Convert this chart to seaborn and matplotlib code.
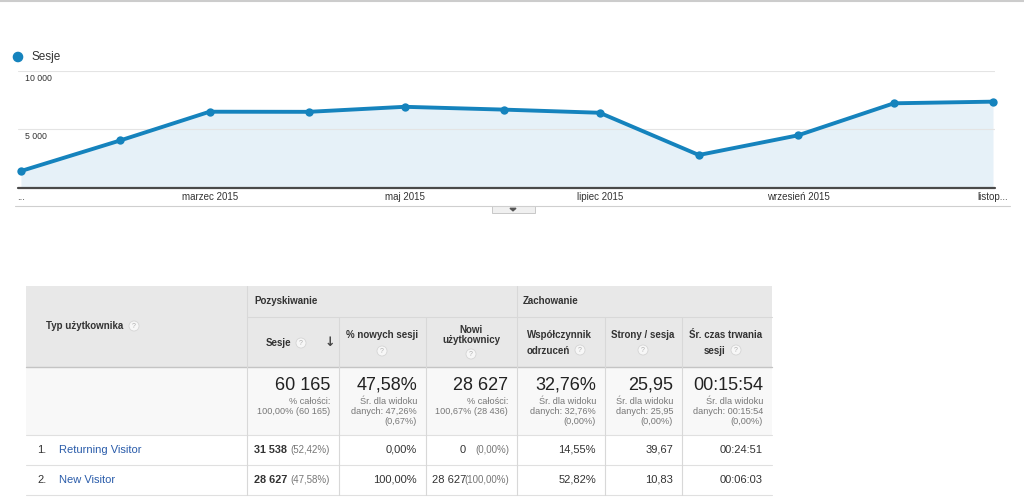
import matplotlib
matplotlib.use("Agg")
import matplotlib.pyplot as plt
import seaborn as sns
import pandas as pd
from matplotlib.patches import Rectangle, Circle, Polygon

# chart data (monthly sessions, Jan - Nov 2015)
months = ["2015-01-01", "2015-02-01", "2015-03-01", "2015-04-01", "2015-05-01", "2015-06-01",
          "2015-07-01", "2015-08-01", "2015-09-01", "2015-10-01", "2015-11-01"]
sessions = [1450, 4060, 6520, 6510, 6940, 6700, 6430, 2820, 4500, 7240, 7380]
tick_dates = ["2015-01-01", "2015-03-01", "2015-05-01", "2015-07-01", "2015-09-01", "2015-11-01"]
tick_labels = ["...", "marzec 2015", "maj 2015", "lipiec 2015", "wrzesień 2015", "listop..."]
y_ticks = [5000, 10000]
y_tick_labels = ["5 000", "10 000"]

# table data
group_names = ["Pozyskiwanie", "Zachowanie"]
first_header = "Typ użytkownika"
col_headers = ["Sesje", "% nowych sesji", "Nowi\nużytkownicy", "Współczynnik\nodrzuceń",
               "Strony / sesja", "Śr. czas trwania\nsesji"]
total_main = ["60 165", "47,58%", "28 627", "32,76%", "25,95", "00:15:54"]
total_sub = [
    ["% całości:", "100,00% (60 165)"],
    ["Śr. dla widoku", "danych: 47,26%", "(0,67%)"],
    ["% całości:", "100,67% (28 436)"],
    ["Śr. dla widoku", "danych: 32,76%", "(0,00%)"],
    ["Śr. dla widoku", "danych: 25,95", "(0,00%)"],
    ["Śr. dla widoku", "danych: 00:15:54", "(0,00%)"],
]
visitor_types = ["Returning Visitor", "New Visitor"]
row_sessions = ["31 538", "28 627"]
row_sessions_pct = ["(52,42%)", "(47,58%)"]
row_new_pct = ["0,00%", "100,00%"]
row_new_users = ["0", "28 627"]
row_new_users_pct = ["(0,00%)", "(100,00%)"]
row_bounce = ["14,55%", "52,82%"]
row_pages = ["39,67", "10,83"]
row_duration = ["00:24:51", "00:06:03"]

BLUE = "#1583bd"
W, H = 1024, 499

sns.set_style("white")
plt.rcParams['font.family'] = ['Liberation Sans', 'DejaVu Sans']

fig = plt.figure(figsize=(W / 100, H / 100), dpi=100)

# background axes in pixel coordinates for the page furniture and the table
bg = fig.add_axes([0, 0, 1, 1], zorder=0)
bg.set_xlim(0, W)
bg.set_ylim(H, 0)
bg.axis('off')

# ---- line chart ----
ax = fig.add_axes([18 / W, 1 - 188 / H, 977 / W, 117 / H], zorder=1)
ax.patch.set_alpha(0)
df = pd.DataFrame({"month": pd.to_datetime(months), "Sesje": sessions})
ax.fill_between(df["month"], df["Sesje"], color="#e6f1f8", zorder=0, lw=0)
for v in y_ticks:
    ax.axhline(v, color="#e4e4e4", lw=0.8, zorder=0.5)
ax.axhline(0, color="#4a4a4a", lw=1.6, zorder=1, clip_on=False)
sns.lineplot(data=df, x="month", y="Sesje", ax=ax, color=BLUE, lw=2.8, marker="o",
             markersize=6, markeredgewidth=0, clip_on=False, zorder=3)
first, last = df["month"].iloc[0], df["month"].iloc[-1]
ax.set_xlim(first - pd.Timedelta(hours=22), last + pd.Timedelta(hours=15))
ax.set_ylim(0, 10000)
ax.set_yticks([])
ax.set_xticks(pd.to_datetime(tick_dates), tick_labels)
ax.tick_params(axis='x', length=0, pad=3, labelsize=7, labelcolor="#333333")
ax.set_xlabel("")
ax.set_ylabel("")
for s in ax.spines.values():
    s.set_visible(False)
for v, lab in zip(y_ticks, y_tick_labels):
    ax.annotate(lab, xy=(0, v), xycoords=('axes fraction', 'data'), xytext=(7, -3),
                textcoords='offset pixels', ha='left', va='top', fontsize=6.3, color="#333333")

# legend, borders, tab
bg.plot([0, W], [0.6, 0.6], color="#cccccc", lw=1.5)
bg.add_patch(Circle((18, 57), 4.6, color=BLUE))
bg.text(31, 57, "Sesje", va='center', ha='left', fontsize=8.5, color="#333333")
bg.plot([15, 1010], [206, 206], color="#cfcfcf", lw=0.8)
bg.add_patch(Rectangle((492, 206), 43, 7, facecolor="#f0f0f0", edgecolor="#c8c8c8", lw=0.7))
bg.add_patch(Polygon([(510, 208.3), (516, 208.3), (513, 210.8)], color="#555555"))

# ---- table ----
cols = [26, 247, 339, 426, 517, 605, 682, 772]
T, MID, HB, SB, R1, R2 = 286, 317, 367, 435, 465, 495
TXT = "#333333"
SUB = "#777777"
LINE = "#d8d8d8"


def qmark(x, y):
    bg.add_patch(Circle((x, y), 5, facecolor="#f7f7f7", edgecolor="#d5d5d5", lw=0.6, zorder=3))
    bg.text(x, y + 0.3, "?", ha='center', va='center', fontsize=5, color="#b0b0b0", zorder=4)


bg.add_patch(Rectangle((cols[0], T), cols[-1] - cols[0], HB - T, facecolor="#e8e8e8", lw=0))
bg.add_patch(Rectangle((cols[0], HB), cols[-1] - cols[0], SB - HB, facecolor="#f8f8f8", lw=0))

bg.plot([cols[1], cols[-1]], [MID, MID], color=LINE, lw=0.8)
bg.plot([cols[0], cols[-1]], [HB, HB], color="#c4c4c4", lw=1.0)
for yy in (SB, R1, R2):
    bg.plot([cols[0], cols[-1]], [yy, yy], color="#e0e0e0", lw=0.8)
bg.plot([cols[1], cols[1]], [T, R2], color=LINE, lw=0.8)
bg.plot([cols[4], cols[4]], [T, R2], color=LINE, lw=0.8)
for c in (cols[2], cols[3], cols[5], cols[6]):
    bg.plot([c, c], [MID, R2], color=LINE, lw=0.8)

# headers
bg.text(46, 326, first_header, ha='left', va='center', fontsize=7, fontweight='bold', color=TXT)
qmark(134, 326)
bg.text(cols[1] + 7, 301, group_names[0], ha='left', va='center', fontsize=7, fontweight='bold', color=TXT)
bg.text(cols[4] + 6, 301, group_names[1], ha='left', va='center', fontsize=7, fontweight='bold', color=TXT)

# Sesje
bg.text(291, 343, col_headers[0], ha='right', va='center', fontsize=7, fontweight='bold', color=TXT)
qmark(301, 343)
bg.text(330, 342, "↓", ha='center', va='center', fontsize=9, fontweight='bold', color="#444444",
        family=['DejaVu Sans'])
# % nowych sesji
bg.text(382, 335, col_headers[1], ha='center', va='center', fontsize=7, fontweight='bold', color=TXT)
qmark(382, 351)
# Nowi użytkownicy
bg.text(471, 335, col_headers[2], ha='center', va='center', fontsize=7, fontweight='bold', color=TXT,
        linespacing=1.05)
qmark(471, 354)
# Współczynnik odrzuceń
l1, l2 = col_headers[3].split("\n")
bg.text(527, 335, l1, ha='left', va='center', fontsize=7, fontweight='bold', color=TXT)
bg.text(527, 351, l2, ha='left', va='center', fontsize=7, fontweight='bold', color=TXT)
qmark(580, 350)
# Strony / sesja
bg.text(643, 335, col_headers[4], ha='center', va='center', fontsize=7, fontweight='bold', color=TXT)
qmark(643, 350)
# Śr. czas trwania sesji
l1, l2 = col_headers[5].split("\n")
bg.text(726, 335, l1, ha='center', va='center', fontsize=7, fontweight='bold', color=TXT)
bg.text(725, 351, l2, ha='right', va='center', fontsize=7, fontweight='bold', color=TXT)
qmark(736, 350)

# summary row
for i in range(6):
    xr = cols[i + 2] - 9
    bg.text(xr, 385, total_main[i], ha='right', va='center', fontsize=13, color="#222222")
    for j, s in enumerate(total_sub[i]):
        bg.text(xr, 401 + j * 10, s, ha='right', va='center', fontsize=6.6, color=SUB)

# data rows
for k, yc in enumerate([450, 480]):
    bg.text(37, yc, f"{k + 1}.", ha='left', va='center', fontsize=8, color=TXT)
    bg.text(59, yc, visitor_types[k], ha='left', va='center', fontsize=8, color="#2a5caa")
    bg.text(330, yc, row_sessions_pct[k], ha='right', va='center', fontsize=7, color=SUB)
    bg.text(287, yc, row_sessions[k], ha='right', va='center', fontsize=7.8, fontweight='bold', color=TXT)
    bg.text(cols[3] - 9, yc, row_new_pct[k], ha='right', va='center', fontsize=8, color=TXT)
    bg.text(509, yc, row_new_users_pct[k], ha='right', va='center', fontsize=7, color=SUB)
    bg.text(466, yc, row_new_users[k], ha='right', va='center', fontsize=8, color=TXT)
    bg.text(cols[5] - 9, yc, row_bounce[k], ha='right', va='center', fontsize=8, color=TXT)
    bg.text(cols[6] - 9, yc, row_pages[k], ha='right', va='center', fontsize=8, color=TXT)
    bg.text(cols[7] - 9, yc, row_duration[k], ha='right', va='center', fontsize=8, color=TXT)

fig.savefig("out.png", dpi=100)
